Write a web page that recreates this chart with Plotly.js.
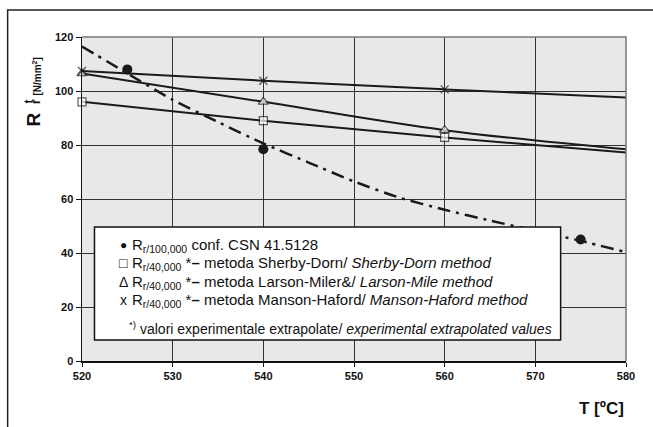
<!DOCTYPE html>
<html>
<head>
<meta charset="utf-8">
<script src="https://cdn.plot.ly/plotly-3.0.1.min.js"></script>
<style>html,body{margin:0;padding:0;background:#fff;}#chart{width:653px;height:427px;}</style>
</head>
<body>
<div id="chart"></div>
<script>
// ---- data ----
var trendT = [520, 525, 530, 535, 540, 545, 550, 555, 560, 565, 570, 575, 580];
var trendR = [116.5, 106.5, 96.7, 88.5, 80.6, 73.5, 66.5, 60.5, 56, 52, 48.3, 44.5, 40.3];
var confT = [525, 540, 575];
var confR = [108, 78.4, 45];
var methodT = [520, 540, 560, 580];
var sherbyR = [96, 89, 82.8, 77.2];
var larsonR = [106.5, 96, 85.5, 78.4];
var mansonR = [107.4, 103.8, 100.6, 97.6];
var markerShown = [1, 1, 1, 0];
var xTicks = [520, 530, 540, 550, 560, 570, 580];
var yTicks = [0, 20, 40, 60, 80, 100, 120];
var legendLines = [
  'R<sub>r/100,000</sub> conf. CSN 41.5128',
  'R<sub>r/40,000</sub> *<b>–</b> metoda Sherby-Dorn/ <i>Sherby-Dorn method</i>',
  'R<sub>r/40,000</sub> *<b>–</b> metoda Larson-Miler&/ <i>Larson-Mile method</i>',
  'R<sub>r/40,000</sub> *<b>–</b> metoda Manson-Haford/ <i>Manson-Haford method</i>'
];
var legendSymbols = ['●', '□', 'Δ', 'x'];
var footnote = '<sup>*)</sup> valori experimentale extrapolate/ <i>experimental extrapolated values</i>';

// ---- geometry helpers (pixel -> paper) ----
var L = 81.5, R = 626.5, T = 37, B = 361;
function px(x) { return (x - L) / (R - L); }
function py(y) { return (B - y) / (B - T); }

var lineCol = '#1a1a1a';
var FONT = 'Liberation Sans, Arial, sans-serif';
function sizes(s) { return markerShown.map(function (v) { return v ? s : 0; }); }

var traces = [
  { x: trendT, y: trendR, mode: 'lines', line: { color: lineCol, width: 2.5, dash: '13px,6px,3px,6px', shape: 'spline', smoothing: 0.6 }, hoverinfo: 'skip' },
  { x: methodT, y: sherbyR, mode: 'lines+markers', line: { color: lineCol, width: 2, shape: 'spline' },
    marker: { symbol: 'square', size: sizes(8), color: '#fff', line: { color: lineCol, width: 1.2 } }, cliponaxis: false },
  { x: methodT, y: larsonR, mode: 'lines+markers', line: { color: lineCol, width: 2, shape: 'spline' },
    marker: { symbol: 'triangle-up', size: sizes(9), color: '#fff', line: { color: lineCol, width: 1.2 } }, cliponaxis: false },
  { x: methodT, y: mansonR, mode: 'lines+markers', line: { color: lineCol, width: 2, shape: 'spline' },
    marker: { symbol: 'x-thin-open', size: sizes(8), color: lineCol, line: { color: lineCol, width: 1.3 } }, cliponaxis: false },
  { x: confT, y: confR, mode: 'markers', marker: { symbol: 'circle', size: 10, color: lineCol }, cliponaxis: false }
];

var annotations = [];
var lineY = [245, 263, 282, 300];
for (var i = 0; i < legendLines.length; i++) {
  annotations.push({ xref: 'paper', yref: 'paper', x: px(123), y: py(lineY[i]), xanchor: 'center', yanchor: 'middle',
    text: legendSymbols[i], showarrow: false, font: { family: FONT, size: i === 0 ? 12 : 14, color: '#111' } });
  annotations.push({ xref: 'paper', yref: 'paper', x: px(130), y: py(lineY[i]), xanchor: 'left', yanchor: 'middle',
    text: legendLines[i], showarrow: false, font: { family: FONT, size: 15, color: '#111' } });
}
annotations.push({ xref: 'paper', yref: 'paper', x: px(127), y: py(328), xanchor: 'left', yanchor: 'middle',
  text: footnote, showarrow: false, font: { family: FONT, size: 14, color: '#111' } });
// y axis title pieces (rotated)
function rot(text, x, y, size) {
  return { xref: 'paper', yref: 'paper', x: px(x), y: py(y), xanchor: 'center', yanchor: 'middle', textangle: -90,
    text: text, showarrow: false, font: { family: FONT, size: size, color: '#111' } };
}
annotations.push(rot('<b>R</b>', 32, 120, 19));
annotations.push(rot('<b>t</b>', 28, 102, 12));
annotations.push(rot('<b>r</b>', 35.5, 102, 12));
annotations.push(rot('<b>[N/mm<sup>2</sup>]</b>', 36, 77, 10));
// x axis title
annotations.push({ xref: 'paper', yref: 'paper', x: px(627), y: py(408), xanchor: 'right', yanchor: 'middle',
  text: '<b>T [ºC]</b>', showarrow: false, font: { family: FONT, size: 17, color: '#111' } });

var shapes = [
  // outer frame (top and left visible)
  { type: 'path', xref: 'paper', yref: 'paper', path: 'M ' + px(7) + ' ' + py(445) + ' L ' + px(7) + ' ' + py(10) + ' L ' + px(660) + ' ' + py(10),
    line: { color: '#222', width: 1.5 }, layer: 'above' },
  // plot area top & right edges
  { type: 'path', xref: 'paper', yref: 'paper', path: 'M 0 1 L 1 1 L 1 0', line: { color: '#777', width: 1.5 }, layer: 'above' },
  // legend box
  { type: 'rect', xref: 'paper', yref: 'paper', x0: px(94), x1: px(561), y0: py(340), y1: py(227),
    fillcolor: '#fff', line: { color: '#111', width: 1.5 }, layer: 'above' }
];

var layout = {
  width: 653, height: 427,
  margin: { l: L, r: 653 - R, t: T, b: 427 - B, pad: 0 },
  paper_bgcolor: '#fff', plot_bgcolor: '#e8e8e8',
  showlegend: false,
  font: { family: FONT, color: '#111' },
  xaxis: { range: [520, 580], tickvals: xTicks, ticktext: xTicks.map(String), showgrid: true, gridcolor: '#333', gridwidth: 1,
    zeroline: false, showline: true, linecolor: '#111', linewidth: 1.5, ticks: 'outside', ticklen: 4, tickcolor: '#111',
    tickfont: { size: 11, family: FONT, weight: 'bold', color: '#111' }, fixedrange: true },
  yaxis: { range: [0, 120], tickvals: yTicks, ticktext: yTicks.map(String), showgrid: true, gridcolor: '#333', gridwidth: 1,
    zeroline: false, showline: true, linecolor: '#111', linewidth: 1.5, ticks: 'outside', ticklen: 5, tickcolor: '#111',
    tickfont: { size: 11, family: FONT, weight: 'bold', color: '#111' }, fixedrange: true },
  shapes: shapes,
  annotations: annotations
};

Plotly.newPlot('chart', traces, layout, { staticPlot: true, displayModeBar: false });
</script>
</body>
</html>
